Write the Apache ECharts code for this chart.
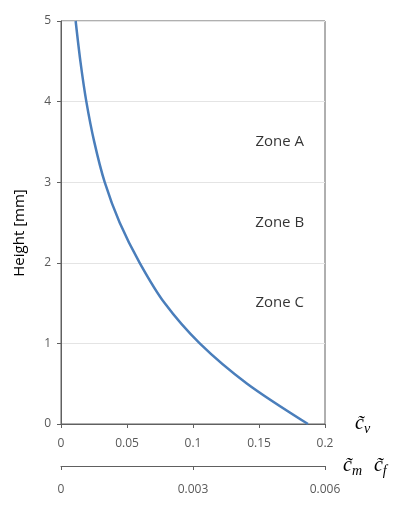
<!DOCTYPE html>
<html>
<head>
<meta charset="utf-8">
<script src="https://cdn.jsdelivr.net/npm/echarts@6/dist/echarts.min.js"></script>
<style>
  html, body { margin: 0; padding: 0; background: #fff; }
  #chart { width: 395px; height: 527px; }
</style>
</head>
<body>
<div id="chart"></div>
<script>
  /* --- data --- */
  const heights = [0, 0.5, 1, 1.5, 2, 2.5, 3, 3.5, 4, 4.5, 5];
  const cv      = [0.1871, 0.1410, 0.1051, 0.0785, 0.0596, 0.0444, 0.0331, 0.0252, 0.0192, 0.0147, 0.0111];

  const zoneNames   = ['Zone A', 'Zone B', 'Zone C'];
  const zoneHeights = [3.5, 2.5, 1.5];
  const zoneX       = 0.1657;

  const cvTicks = [0, 0.05, 0.1, 0.15, 0.2];
  const cmTicks = [0, 0.003, 0.006];
  const heightTicks = [0, 1, 2, 3, 4, 5];

  const axisGray = '#606060';
  const labelGray = '#595959';
  const font = 'Open Sans';
  const mathFont = 'Liberation Serif';

  const chart = echarts.init(document.getElementById('chart'));

  // c-tilde with subscript, used as axis names
  const mathRich = {
    c: { fontFamily: mathFont, fontStyle: 'italic', fontSize: 20, color: '#000' },
    s: { fontFamily: mathFont, fontStyle: 'italic', fontSize: 14, color: '#000', padding: [10, 0, 0, 0] },
    g: { width: 12 }
  };

  chart.setOption({
    animation: false,
    grid: {
      left: 61, right: 70, top: 21, bottom: 103,
      show: true, borderColor: axisGray, borderWidth: 1
    },
    xAxis: [{
      type: 'value',
      min: cvTicks[0], max: cvTicks[cvTicks.length - 1], interval: 0.05,
      position: 'bottom',
      name: '{c|c\u0303}{s|v}',
      nameLocation: 'end', nameGap: 30,
      nameTextStyle: { rich: mathRich, align: 'left', verticalAlign: 'middle' },
      axisLine: { lineStyle: { color: axisGray, width: 1 } },
      axisTick: { length: 4, lineStyle: { color: axisGray } },
      axisLabel: { color: labelGray, fontFamily: font, fontSize: 12, margin: 14 },
      splitLine: { show: false }
    }, {
      type: 'value',
      min: cmTicks[0], max: cmTicks[cmTicks.length - 1], interval: 0.003,
      position: 'bottom', offset: 42,
      name: '{c|c\u0303}{s|m}{g|}{c|c\u0303}{s|f}',
      nameLocation: 'end', nameGap: 18,
      nameTextStyle: { rich: mathRich, align: 'left', verticalAlign: 'middle' },
      axisLine: { onZero: false, lineStyle: { color: axisGray, width: 1 } },
      axisTick: { length: 4, lineStyle: { color: axisGray } },
      axisLabel: { color: labelGray, fontFamily: font, fontSize: 12, margin: 18 },
      splitLine: { show: false }
    }],
    yAxis: {
      type: 'value',
      min: heightTicks[0], max: heightTicks[heightTicks.length - 1], interval: 1,
      axisLine: { show: true, lineStyle: { color: axisGray, width: 1 } },
      axisTick: { show: true, length: 4, lineStyle: { color: axisGray } },
      axisLabel: { color: labelGray, fontFamily: font, fontSize: 12, margin: 10 },
      splitLine: { lineStyle: { color: '#e4e4e4', width: 1 } }
    },
    graphic: [{
      type: 'text',
      x: 20, y: 233,
      rotation: Math.PI / 2,
      style: {
        text: 'Height [mm]',
        font: '15px "Open Sans"',
        fill: '#000',
        textAlign: 'center',
        textVerticalAlign: 'middle'
      }
    }],
    series: [{
      type: 'line',
      xAxisIndex: 0,
      data: cv.map((v, i) => [v, heights[i]]),
      smooth: 0.3,
      showSymbol: false,
      lineStyle: { color: '#4a7ebb', width: 2.5 },
      z: 3
    }, {
      type: 'scatter',
      xAxisIndex: 0,
      data: zoneHeights.map((h, i) => ({ value: [zoneX, h], name: zoneNames[i] })),
      symbolSize: 0,
      label: {
        show: true, position: 'inside',
        formatter: p => p.name,
        color: '#000', fontFamily: font, fontSize: 15
      },
      silent: true
    }]
  });
</script>
</body>
</html>
